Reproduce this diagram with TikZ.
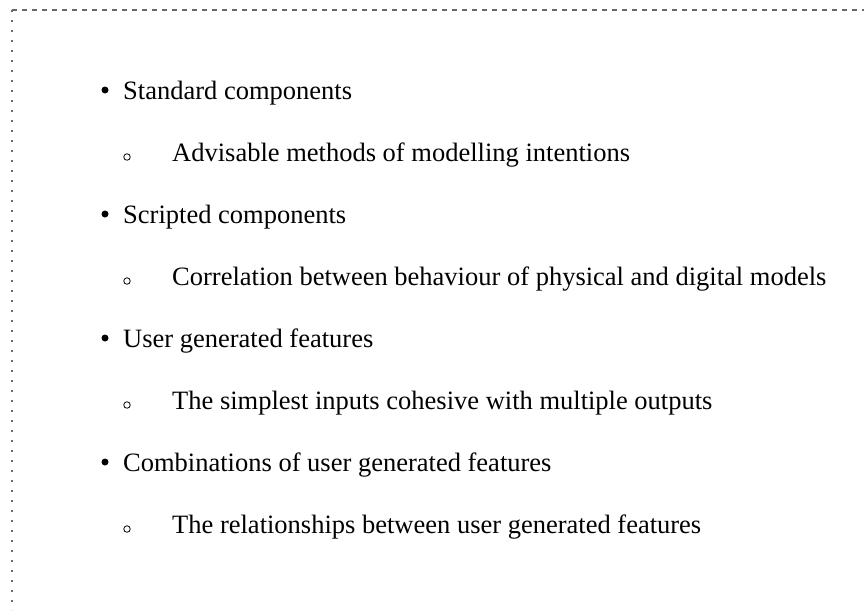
\documentclass[tikz,border=0pt]{standalone}
\usepackage{fontspec}
\setmainfont{Liberation Serif}
\definecolor{framegray}{RGB}{105,105,105}
\begin{document}
\begin{tikzpicture}[x=1pt,y=-1pt,
  txt/.style={anchor=base west, inner sep=0pt, font=\fontsize{26.5}{30}\selectfont},
  bul/.style={circle, fill=black, inner sep=0pt, minimum size=7pt},
  subbul/.style={circle, draw=black, line width=0.8pt, inner sep=0pt, minimum size=6.5pt}]
\useasboundingbox (0,0) rectangle (864,610);
\coordinate (tl) at (12,10);
\coordinate (tr) at (864,10);
\coordinate (bl) at (12,610);
\draw[framegray, line width=1.3pt, dash pattern=on 5pt off 5pt] (tl) -- (tr);
\draw[framegray, line width=1.6pt, dash pattern=on 1.6pt off 8.4pt] (tl) -- (bl);

\node[bul] (b1) at (105,90) {};
\node[txt] (t1) at (123,99) {Standard components};
\node[subbul] (s1) at (127,157) {};
\node[txt] (u1) at (172,161) {Advisable methods of modelling intentions};

\node[bul] (b2) at (105,214) {};
\node[txt] (t2) at (123,223) {Scripted components};
\node[subbul] (s2) at (127,281) {};
\node[txt] (u2) at (172,285) {Correlation between behaviour of physical and digital models};

\node[bul] (b3) at (105,338) {};
\node[txt] (t3) at (123,347) {User generated features};
\node[subbul] (s3) at (127,405) {};
\node[txt] (u3) at (172,409) {The simplest inputs cohesive with multiple outputs};

\node[bul] (b4) at (105,462) {};
\node[txt] (t4) at (123,471) {Combinations of user generated features};
\node[subbul] (s4) at (127,529) {};
\node[txt] (u4) at (172,533) {The relationships between user generated features};
\end{tikzpicture}
\end{document}
